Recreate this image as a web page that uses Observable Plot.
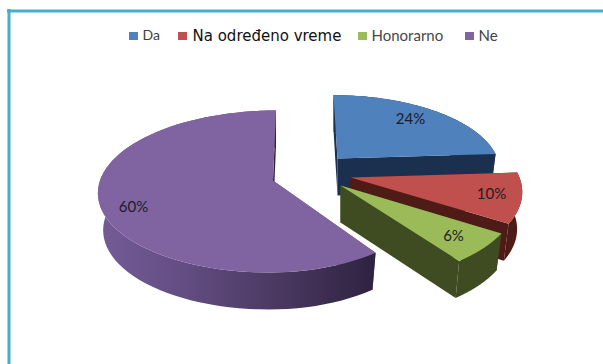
<!DOCTYPE html>
<html>
<head>
<meta charset="utf-8">
<script src="https://cdn.jsdelivr.net/npm/d3@7"></script>
<script src="https://cdn.jsdelivr.net/npm/@observablehq/plot@0.6"></script>
<style>html,body{margin:0;padding:0;background:#fff}svg{display:block}</style>
</head>
<body>
<div id="chart"></div>
<script>
// Data
const categories = ["Da", "Na određeno vreme", "Honorarno", "Ne"];
const shares = [24, 10, 6, 60];

// Styles and layout (3-D projection of the exploded pie)
const faceColors = ["#4f81bd", "#c0504d", "#9bbb59", "#8064a2"];
const wallColors = ["#1b304e", "#4f1b17", "#3f4c22", "url(#purpleWall)"];
const startWallColors = ["#1b304e", "#4f1b17", "#3f4c22", "#5a4678"];
const apexX = [337, 350, 340, 272.5];
const apexY = [158, 177, 185, 180];
const radiusLeft = [160, 169, 174, 173];
const radiusRight = [160, 169, 174, 160];
const radiusDepth = [72, 80, 83, 79.5];
const lean = [0.063, 0.09, 0.05, -0.043];
const wallDepth = 37;
const wallShrink = 0.97;
const perspective = 0.136;
const labelX = [410, 491, 453, 133];
const labelY = [119, 194, 236, 207];
const swatchX = [129, 178, 358, 465];
const legendTextX = [142, 192, 371, 478];
const legendFonts = ["Lato", "DejaVu Sans", "Lato", "Lato"];
const legendColors = ["#404040", "#111111", "#484848", "#404040"];
const legendSizes = [14, 15, 15, 15];

const arcs = d3.pie().sort(null).value(d => d)(shares);

function project(i, angle) {
  const u = Math.sin(angle), v = -Math.cos(angle);
  const s = 1 / (1 - perspective * v);
  const a = u < 0 ? radiusLeft[i] : radiusRight[i];
  const dy = radiusDepth[i] * v * s;
  return {x: apexX[i] + a * u * s + lean[i] * dy, y: apexY[i] + dy};
}

const polygons = [];
arcs.forEach((arc, i) => {
  const down = p => ({x: apexX[i] + (p.x - apexX[i]) * wallShrink, y: p.y + wallDepth});
  const steps = d3.range(0, 73).map(k => arc.startAngle + (arc.endAngle - arc.startAngle) * k / 72);
  const rim = steps.map(t => project(i, t));
  const apex = {x: apexX[i], y: apexY[i]};
  const first = rim[0], last = rim[rim.length - 1];
  polygons.push({pts: [apex, first, down(first), down(apex)], fill: startWallColors[i]});
  polygons.push({pts: [...rim, ...rim.map(down).reverse()], fill: wallColors[i]});
  polygons.push({pts: [apex, last, down(last), down(apex)], fill: i === 3 ? "#30233f" : wallColors[i]});
  polygons.push({pts: [apex, ...rim], fill: faceColors[i]});
});

const legendRows = categories.map((c, i) => ({c, i}));
const labelRows = shares.map((v, i) => ({t: v + "%", i}));

const chart = Plot.plot({
  width: 603, height: 364,
  margin: 0,
  style: {background: "#fff"},
  x: {domain: [0, 603], range: [0, 603], axis: null},
  y: {domain: [0, 364], range: [0, 364], axis: null},
  marks: [
    () => {
      const ns = "http://www.w3.org/2000/svg";
      const defs = document.createElementNS(ns, "defs");
      const g = document.createElementNS(ns, "linearGradient");
      g.setAttribute("id", "purpleWall");
      g.setAttribute("gradientUnits", "userSpaceOnUse");
      g.setAttribute("x1", 100); g.setAttribute("x2", 376);
      g.setAttribute("y1", 0); g.setAttribute("y2", 0);
      [[0, "#745b97"], [0.3, "#634d82"], [0.65, "#4a3860"], [1, "#2e2240"]].forEach(([o, c]) => {
        const s = document.createElementNS(ns, "stop");
        s.setAttribute("offset", o); s.setAttribute("stop-color", c);
        g.appendChild(s);
      });
      defs.appendChild(g);
      return defs;
    },
    // frame
    Plot.ruleY([10.5], {x1: 7, x2: 603, stroke: "#45aec9", strokeWidth: 3}),
    Plot.ruleX([8.5], {y1: 9, y2: 364, stroke: "#45aec9", strokeWidth: 3}),
    ...polygons.map(p => Plot.line(p.pts, {x: "x", y: "y", fill: p.fill, stroke: "none"})),
    Plot.text(labelRows, {x: d => labelX[d.i], y: d => labelY[d.i], text: "t", fontFamily: "Lato", fontSize: 15, fill: "#1c1c28"}),
    Plot.rect(legendRows, {x1: d => swatchX[d.i], x2: d => swatchX[d.i] + 9, y1: 32, y2: 40, fill: d => faceColors[d.i]}),
    ...legendRows.map(d => Plot.text([d], {x: legendTextX[d.i], y: 35.5, text: "c", textAnchor: "start", fontFamily: legendFonts[d.i], fontSize: legendSizes[d.i], fill: legendColors[d.i]}))
  ]
});
document.getElementById("chart").appendChild(chart);
</script>
</body>
</html>
